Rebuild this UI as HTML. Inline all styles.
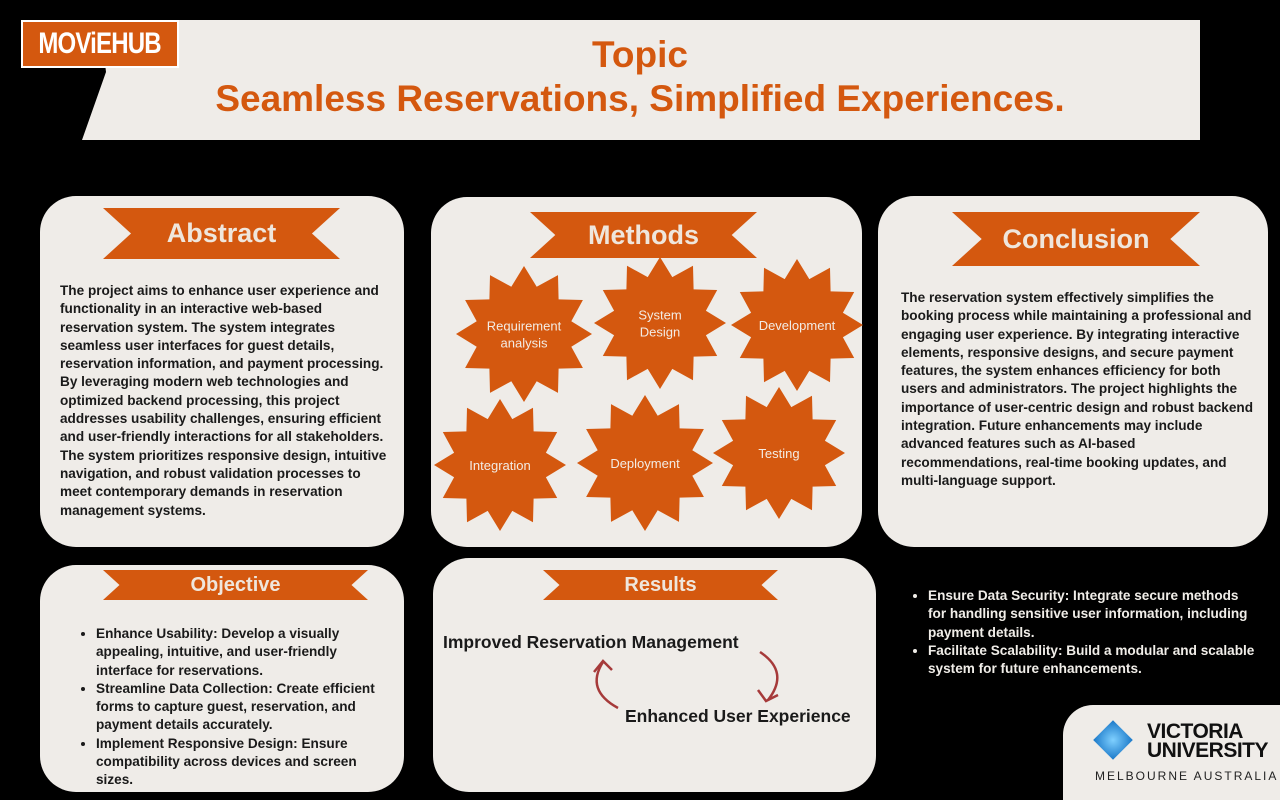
<!DOCTYPE html>
<html><head><meta charset="utf-8"><style>
html,body{margin:0;width:1280px;height:800px;overflow:hidden}
body{background:#000;position:relative;font-family:"Liberation Sans",sans-serif}
.card{position:absolute;background:#efece8;border-radius:36px}
.t{position:absolute;font-weight:bold;font-size:13.6px;line-height:18.3px;color:#1a1a1a}
.rib{position:absolute}
.rib svg{position:absolute;left:0;top:0}
.rib span{position:absolute;left:0;right:0;text-align:center;color:#efe6dc;font-weight:bold}
ul{margin:0;padding-left:16px}
li{margin:0}
</style></head><body>
<svg width="1280" height="800" style="position:absolute;left:0;top:0">
<polygon points="100,20 1200,20 1200,140 82,140 106,72" fill="#efece8"/>
</svg>
<div style="position:absolute;left:21px;top:20px;width:154px;height:44px;background:#d4580f;border:2px solid #fff;color:#fff;font-weight:bold;font-size:30px;line-height:44px;text-align:center;overflow:hidden"><span style="display:inline-block;transform:scaleX(0.8);letter-spacing:-1px">MOViEHUB</span></div>
<div style="position:absolute;left:100px;width:1080px;top:33px;text-align:center;color:#d4580f;font-weight:bold;font-size:37px;line-height:44px">Topic<br>Seamless Reservations, Simplified Experiences.</div>

<div class="card" style="left:40px;top:196px;width:364px;height:351px"></div>
<div class="card" style="left:431px;top:197px;width:431px;height:350px"></div>
<div class="card" style="left:878px;top:196px;width:390px;height:351px"></div>
<div class="card" style="left:40px;top:565px;width:364px;height:227px"></div>
<div class="card" style="left:433px;top:558px;width:443px;height:234px"></div>
<div class="card" style="left:1063px;top:705px;width:250px;height:95px;border-radius:30px 0 0 0"></div>

<div id="ribs"></div>

<div class="t" style="left:60px;top:282px;width:330px">The project aims to enhance user experience and functionality in an interactive web-based reservation system. The system integrates seamless user interfaces for guest details, reservation information, and payment processing. By leveraging modern web technologies and optimized backend processing, this project addresses usability challenges, ensuring efficient and user-friendly interactions for all stakeholders. The system prioritizes responsive design, intuitive navigation, and robust validation processes to meet contemporary demands in reservation management systems.</div>

<div class="t" style="left:901px;top:289px;width:354px">The reservation system effectively simplifies the booking process while maintaining a professional and engaging user experience. By integrating interactive elements, responsive designs, and secure payment features, the system enhances efficiency for both users and administrators. The project highlights the importance of user-centric design and robust backend integration. Future enhancements may include advanced features such as AI-based recommendations, real-time booking updates, and multi-language support.</div>

<div class="t" style="left:80px;top:625px;width:300px"><ul>
<li>Enhance Usability: Develop a visually appealing, intuitive, and user-friendly interface for reservations.</li>
<li>Streamline Data Collection: Create efficient forms to capture guest, reservation, and payment details accurately.</li>
<li>Implement Responsive Design: Ensure compatibility across devices and screen sizes.</li></ul></div>

<div class="t" style="left:912px;top:587px;width:345px;color:#f0ede8"><ul>
<li>Ensure Data Security: Integrate secure methods for handling sensitive user information, including payment details.</li>
<li>Facilitate Scalability: Build a modular and scalable system for future enhancements.</li></ul></div>

<svg id="stars" width="1280" height="800" style="position:absolute;left:0;top:0;pointer-events:none"></svg>

<div style="position:absolute;left:443px;top:632px;font-weight:bold;font-size:17.5px;color:#1a1a1a">Improved Reservation Management</div>
<div style="position:absolute;left:625px;top:706px;font-weight:bold;font-size:17.5px;color:#1a1a1a">Enhanced User Experience</div>
<svg width="1280" height="800" style="position:absolute;left:0;top:0">
<g fill="none" stroke="#a63a3a" stroke-width="2.5">
<path d="M760,652 Q790,672 768,700"/><path d="M758,690 L766,701 L778,695"/>
<path d="M618,708 Q585,690 603,662"/><path d="M594,672 L603,661 L612,670"/>
</g></svg>

<div style="position:absolute;left:1095px;top:722px">
<div style="position:absolute;left:4px;top:4px;width:28px;height:28px;transform:rotate(45deg);background:radial-gradient(circle,#7fd0ff,#1a78c8)"></div>
<div style="position:absolute;left:52px;top:0;font-weight:900;font-size:21px;line-height:19px;color:#111;letter-spacing:-0.5px;white-space:nowrap">VICTORIA<br>UNIVERSITY</div>
<div style="position:absolute;left:0;top:47px;font-size:12px;letter-spacing:2px;color:#222;white-space:nowrap">MELBOURNE AUSTRALIA</div>
</div>

<script>
var ribbons=[["abstract",103,208,237,51,"Abstract",27],["methods",530,212,227,46,"Methods",27],["conclusion",952,212,248,54,"Conclusion",27],["objective",103,570,265,30,"Objective",20],["results",543,570,235,30,"Results",20]];
var R=document.getElementById('ribs');
ribbons.forEach(function(r){
 var d=document.createElement('div');d.className='rib';
 
 
 d.style.left=r[1]+'px';d.style.top=r[2]+'px';d.style.width=r[3]+'px';d.style.height=r[4]+'px';
 var w=r[3],h=r[4],n=h*0.55;
 d.innerHTML='<svg width="'+w+'" height="'+h+'"><polygon fill="#d4580f" points="0,0 '+w+',0 '+(w-n)+','+(h/2)+' '+w+','+h+' 0,'+h+' '+n+','+(h/2)+'"/></svg><span style="top:0;line-height:'+h+'px;font-size:'+r[6]+'px">'+r[5]+'</span>';
 R.appendChild(d);
});
var stars=[["Requirement|analysis",524,334,68],["System|Design",660,323,66],["Development",797,325,66],["Integration",500,465,66],["Deployment",645,463,68],["Testing",779,453,66]];
var S=document.getElementById('stars'),ns='http://www.w3.org/2000/svg';
stars.forEach(function(s){
 var pts=[],N=12;
 for(var i=0;i<2*N;i++){var a=-Math.PI/2+i*Math.PI/N,rr=i%2?s[3]*0.72:s[3];pts.push((s[1]+rr*Math.cos(a)).toFixed(1)+','+(s[2]+rr*Math.sin(a)).toFixed(1));}
 var p=document.createElementNS(ns,'polygon');p.setAttribute('points',pts.join(' '));p.setAttribute('fill','#d4580f');
 
 
 S.appendChild(p);
 var lines=s[0].split('|');
 lines.forEach(function(l,k){
  var t=document.createElementNS(ns,'text');t.setAttribute('x',s[1]);t.setAttribute('y',s[2]+5+(k-(lines.length-1)/2)*17);
  t.setAttribute('text-anchor','middle');t.setAttribute('fill','#f3ece4');t.setAttribute('font-size','13');t.setAttribute('font-family','Liberation Sans, sans-serif');
  
  
  t.textContent=l;S.appendChild(t);
 });
});
</script>
</body></html>
